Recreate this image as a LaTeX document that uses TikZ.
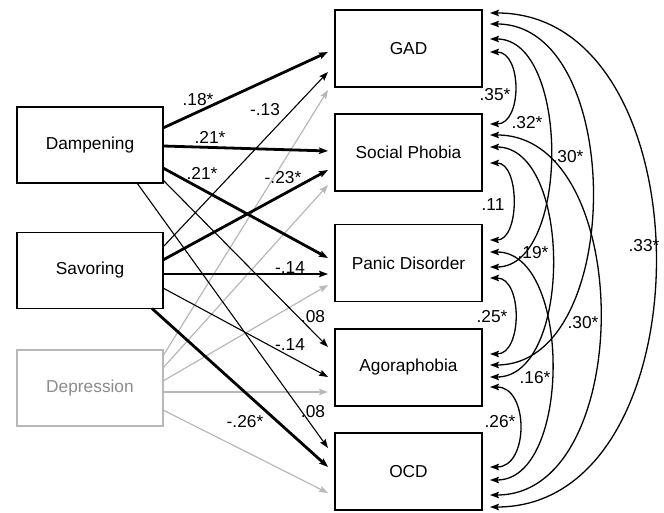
\documentclass[tikz,border=0pt]{standalone}
\usepackage{fontspec}
\setmainfont{Liberation Sans}
\usepackage{xcolor}
\usetikzlibrary{arrows.meta, positioning}

\definecolor{lightline}{gray}{0.72}
\definecolor{greytext}{gray}{0.55}

\begin{document}
\begin{tikzpicture}[
  x=1pt, y=1pt,
  varbox/.style={rectangle, draw, line width=1.9pt, minimum width=147pt, minimum height=77pt, outer sep=0pt, inner sep=0pt, font=\fontsize{17.3}{20}\selectfont},
  predbox/.style={varbox, minimum width=146pt, minimum height=76pt},
  eff/.style={->, line width=1.1pt, >={Stealth[length=9pt, width=6.5pt, inset=1.5pt]}},
  sig/.style={eff, line width=2.8pt},
  ctl/.style={eff, draw=lightline, line width=1.2pt},
  cov/.style={<->, line width=1.3pt, >={Stealth[length=9pt, width=6.5pt, inset=1.5pt]}},
  lbl/.style={font=\fontsize{17.3}{20}\selectfont, inner sep=0pt}
]
\useasboundingbox (0,0) rectangle (664,513);

% ── Predictors (left column) ─────────────────────────────────
\node[predbox] (damp) at (90,368) {Dampening};
\node[predbox, below=49.5pt of damp] (sav) {Savoring};
\node[predbox, below=41.5pt of sav, draw=lightline, text=greytext] (dep) {Depression};

% ── Outcomes (right column) ──────────────────────────────────
\node[varbox] (gad) at (408.5,464.5) {GAD};
\node[varbox, below=27pt of gad]   (soc) {Social Phobia};
\node[varbox, below=33.5pt of soc] (pan) {Panic Disorder};
\node[varbox, below=27.5pt of pan] (ago) {Agoraphobia};
\node[varbox, below=27pt of ago]   (ocd) {OCD};

% ── Depression (control) paths ───────────────────────────────
\draw[ctl] ([yshift=32pt]dep.east)  -- ([xshift=-7pt,yshift=-41.5pt]gad.west);
\draw[ctl] ([yshift=20pt]dep.east)  -- ([xshift=-7pt,yshift=-32.5pt]soc.west);
\draw[ctl] ([yshift=7pt]dep.east)   -- ([xshift=-7pt,yshift=-22pt]pan.west);
\draw[ctl] ([yshift=-4pt]dep.east)  -- ([xshift=-7pt,yshift=-24.5pt]ago.west);
\draw[ctl] ([yshift=-22pt]dep.east) -- ([xshift=-7pt,yshift=-21.5pt]ocd.west);

% ── Dampening paths ──────────────────────────────────────────
\draw[sig] ([yshift=17pt]damp.east)  -- ([xshift=-7pt,yshift=-3.5pt]gad.west);
\draw[sig] ([yshift=-1pt]damp.east)  -- ([xshift=-7pt,yshift=1.5pt]soc.west);
\draw[sig] ([yshift=-23pt]damp.east) -- ([xshift=-7pt,yshift=5pt]pan.west);
\draw[eff] ([yshift=-35pt]damp.east) -- ([xshift=-7pt,yshift=20.5pt]ago.west);
\draw[eff] ([xshift=47pt]damp.south) -- ([xshift=-7pt,yshift=23.5pt]ocd.west);

% ── Savoring paths ───────────────────────────────────────────
\draw[eff] ([yshift=23.5pt]sav.east)  -- ([xshift=-7pt,yshift=-23.5pt]gad.west);
\draw[sig] ([yshift=10.5pt]sav.east)  -- ([xshift=-7pt,yshift=-17.5pt]soc.west);
\draw[eff] ([yshift=-3.5pt]sav.east)  -- ([xshift=-7pt,yshift=-11pt]pan.west);
\draw[eff] ([yshift=-17.5pt]sav.east) -- ([xshift=-7pt,yshift=-9.5pt]ago.west);
\draw[sig] ([xshift=62pt]sav.south)   -- ([xshift=-7pt,yshift=4.5pt]ocd.west);

% ── Path weights ─────────────────────────────────────────────
\node[lbl] (w-dg) at (198,413) {.18*};
\node[lbl] (w-sg) at (265,403) {-.13};
\node[lbl] (w-ds) at (210,376) {.21*};
\node[lbl] (w-dp) at (202,340) {.21*};
\node[lbl] (w-ss) at (283,335) {-.23*};
\node[lbl] (w-sp) at (290,245) {-.14};
\node[lbl] (w-da) at (313,196) {.08};
\node[lbl] (w-sa) at (290,168) {-.14};
\node[lbl] (w-do) at (313,101) {.08};
\node[lbl] (w-so) at (245,91)  {-.26*};

% ── Residual covariances ─────────────────────────────────────
\draw[cov] ([xshift=8pt,yshift=-3.5pt]gad.east) to[out=0,in=0,looseness=1.15] ([xshift=8pt,yshift=28.5pt]soc.east);
\draw[cov] ([xshift=8pt,yshift=9.5pt]gad.east)  to[out=0,in=0,looseness=0.9]  ([xshift=8pt,yshift=-4pt]pan.east);
\draw[cov] ([xshift=8pt,yshift=24.5pt]gad.east) to[out=0,in=0,looseness=1.02] ([xshift=8pt,yshift=2.5pt]ago.east);
\draw[cov] ([xshift=8pt,yshift=35.5pt]gad.east) to[out=0,in=0,looseness=1.14] ([xshift=8pt,yshift=-35.5pt]ocd.east);
\draw[cov] ([xshift=8pt,yshift=-10.5pt]soc.east) to[out=0,in=0,looseness=1.0]  ([xshift=8pt,yshift=23pt]pan.east);
\draw[cov] ([xshift=8pt,yshift=5.5pt]soc.east)  to[out=0,in=0,looseness=0.92] ([xshift=8pt,yshift=-9.5pt]ago.east);
\draw[cov] ([xshift=8pt,yshift=17.5pt]soc.east) to[out=0,in=0,looseness=1.04] ([xshift=8pt,yshift=-23.5pt]ocd.east);
\draw[cov] ([xshift=8pt,yshift=11pt]pan.east)   to[out=0,in=0,looseness=0.92] ([xshift=8pt,yshift=-8.5pt]ocd.east);
\draw[cov] ([xshift=8pt,yshift=-15pt]pan.east)  to[out=0,in=0,looseness=1.1]  ([xshift=8pt,yshift=13.5pt]ago.east);
\draw[cov] ([xshift=8pt,yshift=-19.5pt]ago.east) to[out=0,in=0,looseness=1.25] ([xshift=8pt,yshift=4.5pt]ocd.east);

\node[lbl] (c-gs) at (495,418) {.35*};
\node[lbl] (c-gp) at (527,390) {.32*};
\node[lbl] (c-ga) at (568,356) {.30*};
\node[lbl] (c-sp) at (493,308) {.11};
\node[lbl] (c-sa) at (533,260) {.19*};
\node[lbl] (c-go) at (644,267) {.33*};
\node[lbl] (c-pa) at (492,196) {.25*};
\node[lbl] (c-so) at (583,190) {.30*};
\node[lbl] (c-po) at (535,135) {.16*};
\node[lbl] (c-ao) at (500,91)  {.26*};
\end{tikzpicture}
\end{document}
